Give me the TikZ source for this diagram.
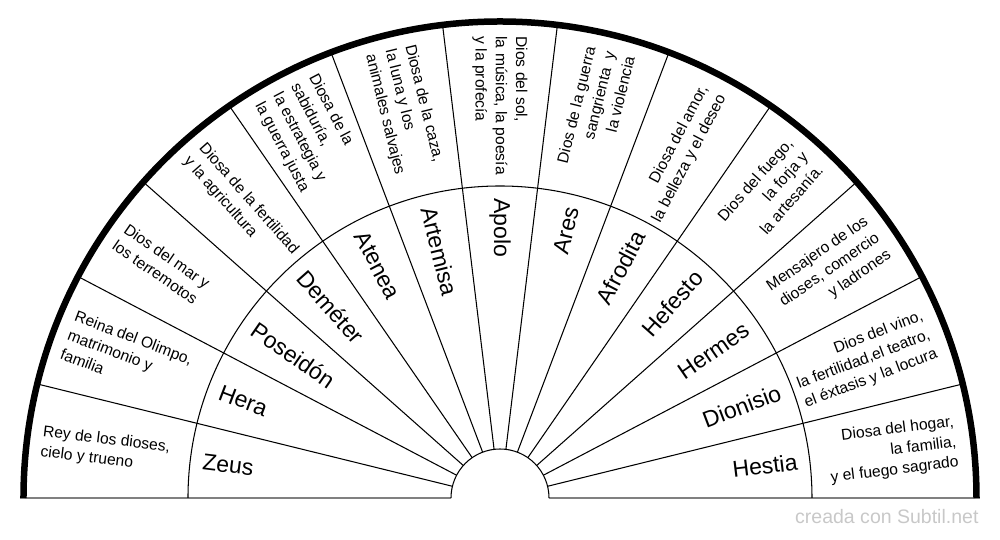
\documentclass[tikz,border=0pt]{standalone}
\usepackage{fontspec}
\setmainfont{Liberation Sans}
\usepackage{xcolor}
\definecolor{basegris}{RGB}{128,128,128}
\definecolor{marcagris}{RGB}{200,200,200}
\tikzset{dios/.style={font=\fontsize{13.1}{15}\selectfont,inner sep=0pt},
  texto/.style={font=\fontsize{8.9}{10.3}\selectfont,inner sep=0pt}}

\begin{document}
\begin{tikzpicture}[line width=0.6pt]
   \useasboundingbox (-10,-0.84) rectangle (10,9.96);
   \draw[basegris, line width=1.1pt] (-9.6,0) -- (-0.98,0);
   \draw[basegris, line width=1.1pt] (0.98,0) -- (9.6,0);
   \draw (0.98,0) arc (0:180:0.98);
   \draw (6.24,0) arc (0:180:6.24);
   \foreach \k in {1,...,12}
      \draw ({\k*180/13}:0.98) -- ({\k*180/13}:9.53);
   \draw[line width=0.13cm] (9.53,0) arc (0:180:9.53);
   % lado derecho
   \foreach \g/\d [count=\i] in {Hestia/{Diosa del hogar,\\[1.2pt]la familia,\\[1.2pt]y el fuego sagrado},
      Dionisio/{Dios del vino,\\[1.2pt]la fertilidad,el teatro,\\[1.2pt]el éxtasis y la locura},
      Hermes/{Mensajero de los\\[1.2pt]dioses, comercio\\[1.2pt]y ladrones},
      Hefesto/{Dios del fuego,\\[1.2pt]la forja y\\[1.2pt]la artesanía.},
      Afrodita/{Diosa del amor,\\[1.2pt]la belleza y el deseo},
      Ares/{Dios de la guerra\\[1.2pt]sangrienta\ \ y\\[1.2pt]la violencia}}{
      \pgfmathsetmacro\a{(\i-0.5)*180/13}
      \node[dios, anchor=east, rotate=\a] (g\i) at (\a:6) {\g};
      \node[texto, anchor=east, align=right, rotate=\a] (d\i) at (\a:9.2) {\d};
   }
   % lado izquierdo
   \foreach \g/\d [count=\i from 7] in {Apolo/{Dios del sol,\\[1.2pt]la música, la poesía\\[1.2pt]y la profecía},
      Artemisa/{Diosa de la caza,\\[1.2pt]la luna y los\\[1.2pt]animales salvajes},
      Atenea/{Diosa de la\\[1.2pt]sabiduría,\\[1.2pt]la estrategia y\\[1.2pt]la guerra justa},
      Deméter/{Diosa de la fertilidad\\[1.2pt]y la agricultura},
      Poseidón/{Dios del mar y\\[1.2pt]los terremotos},
      Hera/{Reina del Olimpo,\\[1.2pt]matrimonio y\\[1.2pt]familia},
      Zeus/{Rey de los dioses,\\[1.2pt]cielo y trueno}}{
      \pgfmathsetmacro\a{(\i-0.5)*180/13}
      \pgfmathsetmacro\b{\a-180}
      \node[dios, anchor=west, rotate=\b] (g\i) at (\a:6) {\g};
      \node[texto, anchor=west, align=left, rotate=\b] (d\i) at (\a:9.24) {\d};
   }
   \node[marcagris, anchor=base east, inner sep=0pt, font=\fontsize{11.1}{13}\selectfont] (marca) at (9.58,-0.52) {creada con Subtil.net};
\end{tikzpicture}
\end{document}
